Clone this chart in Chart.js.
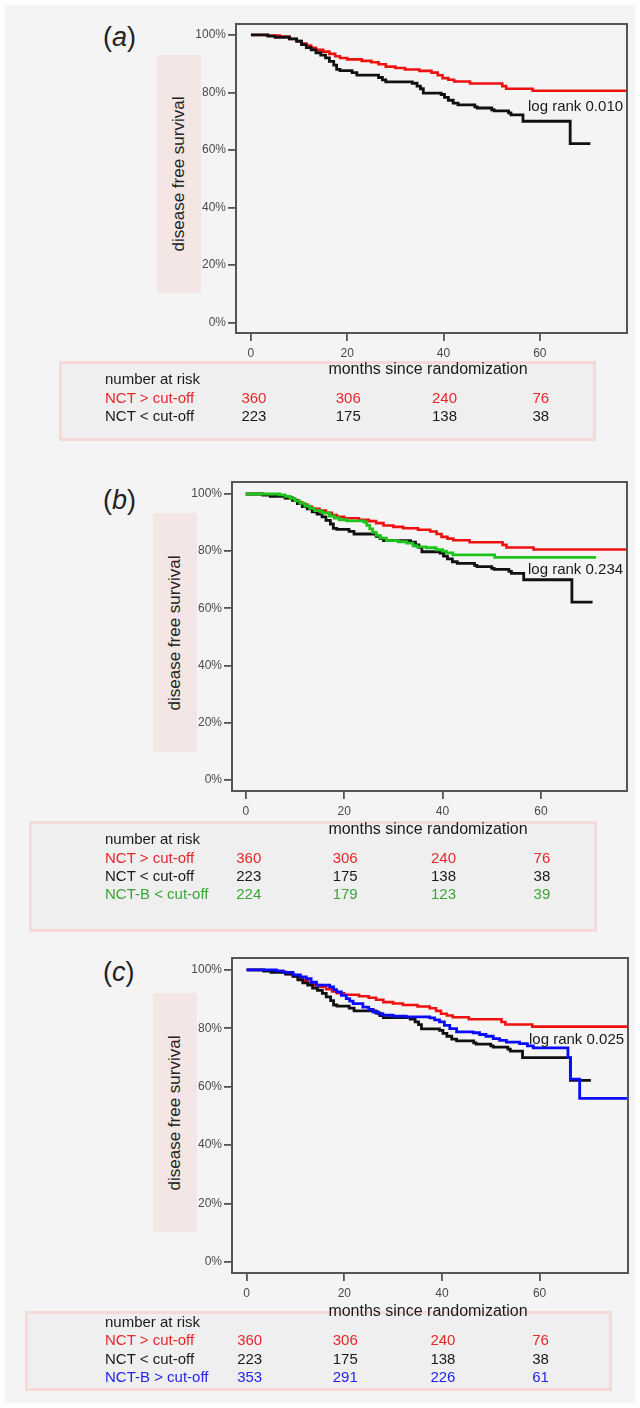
<!DOCTYPE html>
<html>
<head>
<meta charset="utf-8">
<script src="https://cdn.jsdelivr.net/npm/chart.js@4.4.1/dist/chart.umd.min.js"></script>
<style>
  html, body { margin:0; padding:0; background:#ffffff; }
  #page { position:relative; width:640px; height:1408px; overflow:hidden; font-family:"Liberation Sans", Arial, sans-serif; }
  #bg { position:absolute; left:5px; top:5px; width:630px; height:1398px; background:#f4f4f4; }
  .abs { position:absolute; white-space:nowrap; }
  .ybox { position:absolute; background:#f4e6e4; }
  .ylab { position:absolute; left:50%; top:50%; transform:translate(-50%,-50%) rotate(-90deg); font-size:17px; color:#222; white-space:nowrap; }
  .tbox { position:absolute; background:#efefef; border:3px solid #f5dada; box-sizing:border-box; }
  .letter { font-size:27px; color:#222; transform:translateY(-50%); }
  .tt { font-size:15px; transform:translateY(-50%); }
  .num { font-size:15px; transform:translate(-50%,-50%); }
  .cw { position:absolute; }
</style>
</head>
<body>
<div id="page"><div id="bg"></div></div>
<script>
// ---------------- data ----------------
const xTicks = [0, 20, 40, 60];
const yTicks = [0, 20, 40, 60, 80, 100];
const riskMonths = [0, 20, 40, 60];

// NCT > cut-off (red)
const monthsHigh = [0, 3.5, 6, 8, 9.5, 10.5, 11.5, 12.5, 13.5, 15, 16.3, 17.5, 18.5, 20, 23, 25, 26.5, 28, 30, 32, 35, 37.5, 38.8, 39.8, 41, 42.2, 45.5, 52.2, 53, 58.5, 78.5];
const survHigh   = [100, 99.8, 99.4, 98.6, 97.9, 97.0, 96.3, 95.5, 94.8, 94.2, 93.4, 92.6, 92.0, 91.5, 91.0, 90.5, 89.8, 89.0, 88.5, 88.0, 87.5, 86.9, 86.0, 85.0, 84.4, 83.8, 83.1, 82.2, 81.3, 80.6, 80.6];

// NCT < cut-off (black)
const monthsLow = [0, 3.5, 5, 8, 9.5, 10.5, 11.5, 12.5, 13.5, 14.5, 15.5, 16.3, 17.2, 17.8, 18.5, 21, 22, 26.5, 27.3, 28, 33.5, 34.5, 35.2, 35.8, 39.5, 40.2, 41, 42, 43, 46.5, 47, 50, 50.5, 53.5, 54, 56.5, 66.3, 70.5];
const survLow   = [100, 99.6, 99.2, 98.6, 97.8, 96.6, 95.6, 94.8, 93.8, 93.0, 92.0, 90.8, 89.5, 88.0, 87.6, 86.9, 86.0, 85.2, 84.4, 83.7, 83.2, 82.2, 81.3, 79.8, 79.3, 78.3, 77.3, 76.3, 75.7, 75.0, 74.6, 74.0, 73.6, 72.9, 72.2, 70.0, 62.2, 62.2];

// NCT-B < cut-off (green)
const monthsBLow = [0, 6.9, 8, 9, 10, 11, 12, 13, 14, 15.5, 17, 18, 19, 20.5, 24, 24.6, 25.2, 25.8, 26.5, 27.3, 28.6, 31, 32.7, 34, 34.8, 36.7, 38.7, 40, 40.8, 42.1, 50.6, 71.2];
const survBLow   = [100, 99.7, 99.2, 98.5, 97.6, 96.7, 95.8, 95.0, 94.2, 93.4, 92.3, 91.6, 91.0, 90.6, 90.2, 89.0, 87.8, 86.6, 85.5, 84.6, 83.7, 83.3, 82.8, 81.9, 81.5, 81.2, 80.5, 80.0, 79.4, 78.7, 77.8, 77.8];

// NCT-B > cut-off (blue)
const monthsBHigh = [0, 6.1, 7.5, 9.5, 11, 12.2, 13.2, 14.3, 17, 17.8, 18.4, 19.4, 20.4, 21.1, 21.8, 23.8, 25, 25.9, 27, 27.9, 30, 32.7, 37.5, 38.5, 39.5, 40.5, 41.6, 43, 46.4, 47.7, 49, 50.5, 51.8, 53.2, 55.9, 57.5, 58.7, 65.8, 66.3, 68.2, 78.5];
const survBHigh   = [100, 99.7, 99.2, 98.3, 97.6, 97.0, 95.8, 94.8, 94.2, 93.3, 92.5, 91.3, 90.2, 89.3, 88.5, 87.3, 86.5, 85.6, 85.0, 84.5, 84.2, 83.9, 83.6, 82.9, 82.2, 81.0, 79.9, 78.8, 78.5, 77.9, 77.3, 76.5, 75.9, 75.3, 74.8, 74.0, 73.3, 70.0, 62.6, 56.0, 56.0];

// numbers at risk
const riskHigh  = [360, 306, 240, 76];
const riskLow   = [223, 175, 138, 38];
const riskBLow  = [224, 179, 123, 39];
const riskBHigh = [353, 291, 226, 61];

const labelHigh = 'NCT > cut-off';
const labelLow = 'NCT < cut-off';
const labelBLow = 'NCT-B < cut-off';
const labelBHigh = 'NCT-B > cut-off';
const logRankTexts = ['log rank 0.010', 'log rank 0.234', 'log rank 0.025'];
const panelLetters = ['a', 'b', 'c'];
const yTitle = 'disease free survival';
const xTitle = 'months since randomization';
const riskTitle = 'number at risk';

// ---------------- styles ----------------
const LINE = { high:'#f01010', low:'#111111', bLow:'#1ec41e', bHigh:'#0a0aff' };
const TEXT = { high:'#e8262b', low:'#1a1a1a', bLow:'#3aa535', bHigh:'#2323ee' };

const seriesHigh  = { months: monthsHigh,  surv: survHigh,  risk: riskHigh,  label: labelHigh,  key:'high' };
const seriesLow   = { months: monthsLow,   surv: survLow,   risk: riskLow,   label: labelLow,   key:'low' };
const seriesBLow  = { months: monthsBLow,  surv: survBLow,  risk: riskBLow,  label: labelBLow,  key:'bLow' };
const seriesBHigh = { months: monthsBHigh, surv: survBHigh, risk: riskBHigh, label: labelBHigh, key:'bHigh' };

// ---------------- layout ----------------
const panels = [
  { area:{l:236,t:24,r:627,b:333},  x:[-3.1,78.1], y:[-3.6,103.8], series:[seriesHigh, seriesLow],
    letterY:37, yBox:{l:157,t:55,w:44,h:238}, logRank:{x:528,y:105},
    table:{l:59,t:361,w:537,h:80}, monthsY:369, rowsY:[378,397,415] },
  { area:{l:232,t:482,r:627,b:791}, x:[-2.8,77.5], y:[-3.9,104.2], series:[seriesHigh, seriesLow, seriesBLow],
    letterY:500, yBox:{l:153,t:513,w:44,h:239}, logRank:{x:528,y:568},
    table:{l:29,t:821,w:568,h:111}, monthsY:829, rowsY:[838,857,875,893] },
  { area:{l:232,t:958,r:628,b:1273}, x:[-3.0,78.1], y:[-3.8,104.1], series:[seriesHigh, seriesLow, seriesBHigh],
    letterY:972, yBox:{l:153,t:993,w:44,h:239}, logRank:{x:529,y:1038},
    table:{l:25,t:1311,w:587,h:80}, monthsY:1311, rowsY:[1321,1339,1358,1376] }
];

const page = document.getElementById('page');
function addDiv(cls, left, top, html, color) {
  const d = document.createElement('div');
  d.className = 'abs ' + cls;
  d.style.left = left + 'px';
  d.style.top = top + 'px';
  if (color) d.style.color = color;
  d.innerHTML = html;
  page.appendChild(d);
  return d;
}

const boxPlugin = {
  id: 'box',
  afterDatasetsDraw(chart) {
    const a = chart.chartArea, ctx = chart.ctx;
    ctx.save();
    ctx.strokeStyle = '#555';
    ctx.lineWidth = 2;
    ctx.strokeRect(a.left, a.top, a.right - a.left, a.bottom - a.top);
    ctx.restore();
  }
};

const PAD_L = 52, PAD_T = 10, PAD_R = 10, X_H = 36;
const tickFont = { family:'"Liberation Sans", Arial, sans-serif', size:12 };

panels.forEach((p, idx) => {
  const tb = document.createElement('div');
  tb.className = 'tbox';
  Object.assign(tb.style, { left:p.table.l+'px', top:p.table.t+'px', width:p.table.w+'px', height:p.table.h+'px' });
  page.appendChild(tb);

  const yb = document.createElement('div');
  yb.className = 'ybox';
  Object.assign(yb.style, { left:p.yBox.l+'px', top:p.yBox.t+'px', width:p.yBox.w+'px', height:p.yBox.h+'px' });
  const yl = document.createElement('div'); yl.className = 'ylab'; yl.textContent = yTitle;
  yb.appendChild(yl); page.appendChild(yb);

  addDiv('letter', 103, p.letterY, '(<i>' + panelLetters[idx] + '</i>)');

  const wrap = document.createElement('div');
  wrap.className = 'cw';
  const W = p.area.r - p.area.l + PAD_L + PAD_R;
  const H = p.area.b - p.area.t + PAD_T + X_H;
  Object.assign(wrap.style, { left:(p.area.l-PAD_L)+'px', top:(p.area.t-PAD_T)+'px', width:W+'px', height:H+'px' });
  const cv = document.createElement('canvas');
  wrap.appendChild(cv); page.appendChild(wrap);

  const ordered = p.series.slice().reverse();
  const datasets = ordered.map(s => ({
    label: s.label,
    data: s.months.map((m, i) => ({ x: m, y: s.surv[i] })),
    stepped: 'before',
    borderColor: LINE[s.key],
    borderWidth: s.key === 'high' ? 2.6 : 2.8,
    pointRadius: 0,
    fill: false
  }));

  const chart = new Chart(cv, {
    type: 'line',
    data: { datasets },
    options: {
      responsive: true,
      maintainAspectRatio: false,
      animation: false,
      events: [],
      layout: { padding: { left:0, top:PAD_T, right:PAD_R, bottom:0 } },
      plugins: { legend:{display:false}, tooltip:{enabled:false} },
      scales: {
        x: {
          type: 'linear', min: p.x[0], max: p.x[1],
          afterBuildTicks: s => { s.ticks = xTicks.map(v => ({ value: v })); },
          afterFit: s => { s.height = X_H; },
          ticks: { color:'#4a4a4a', font:tickFont, padding:5, maxRotation:0, callback: v => String(v) },
          grid: { drawOnChartArea:false, drawTicks:true, tickLength:8, color:'#555', lineWidth:1.8 },
          border: { display:true, color:'#555', width:2 }
        },
        y: {
          type: 'linear', min: p.y[0], max: p.y[1],
          afterBuildTicks: s => { s.ticks = yTicks.map(v => ({ value: v })); },
          afterFit: s => { s.width = PAD_L; },
          ticks: { color:'#4a4a4a', font:tickFont, padding:2, callback: v => v + '%' },
          grid: { drawOnChartArea:false, drawTicks:true, tickLength:8, color:'#555', lineWidth:1.8 },
          border: { display:true, color:'#555', width:2 }
        }
      }
    },
    plugins: [boxPlugin]
  });

  addDiv('tt', p.logRank.x, p.logRank.y, logRankTexts[idx], '#1a1a1a');

  const xt = addDiv('num', 428, p.monthsY, xTitle, '#1a1a1a');
  xt.style.fontSize = '16px';

  addDiv('tt', 105, p.rowsY[0], riskTitle, '#1a1a1a');
  const offX = p.area.l - PAD_L;
  p.series.forEach((s, r) => {
    const y = p.rowsY[r + 1];
    addDiv('tt', 105, y, s.label, TEXT[s.key]);
    riskMonths.forEach((m, j) => {
      const px = offX + chart.scales.x.getPixelForValue(m) + (j === 0 ? 3 : 1);
      addDiv('num', px, y, String(s.risk[j]), TEXT[s.key]);
    });
  });
});
</script>
</body>
</html>
